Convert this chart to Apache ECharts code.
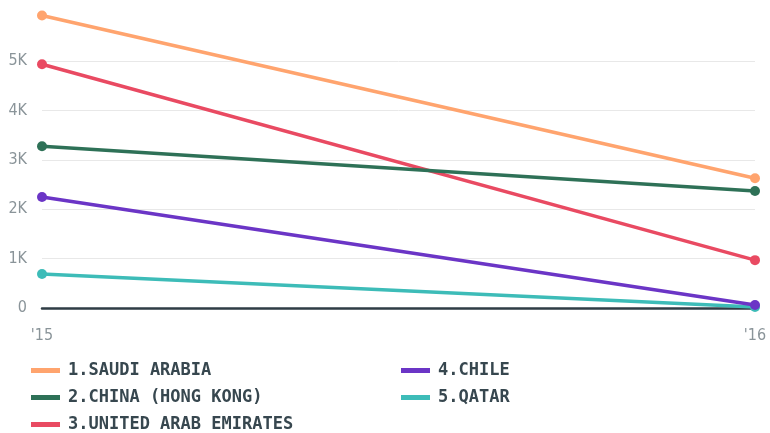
<!DOCTYPE html>
<html><head><meta charset="utf-8">
<script src="https://cdn.jsdelivr.net/npm/echarts@6/dist/echarts.min.js"></script>
<style>html,body{margin:0;padding:0;background:#fff}#c{width:770px;height:433px}</style>
</head><body><div id="c"></div>
<script>
const categories = ["'15", "'16"];
const saudiArabia = [5930, 2630];
const chinaHK = [3280, 2370];
const uae = [4940, 970];
const chile = [2250, 60];
const qatar = [690, 20];
const seriesNames = ['1.SAUDI ARABIA', '2.CHINA (HONG KONG)', '3.UNITED ARAB EMIRATES', '4.CHILE', '5.QATAR'];
const seriesColors = ['#ffa46e', '#2e7157', '#e94a62', '#6b35c6', '#3dbcb8'];
const seriesData = [saudiArabia, chinaHK, uae, chile, qatar];

const chart = echarts.init(document.getElementById('c'), null, {renderer: 'canvas'});
const legendText = {fontFamily: 'DejaVu Sans Mono', fontWeight: 'bold', fontSize: 17, color: '#37474f', padding: [0, 0, 0, 3]};
chart.setOption({
  animation: false,
  grid: {left: 42, right: 15, top: 12, bottom: 125, containLabel: false},
  xAxis: {
    type: 'category', data: categories, boundaryGap: false,
    axisLine: {lineStyle: {color: '#2f3d45', width: 2.5}},
    axisTick: {show: false},
    axisLabel: {color: '#8a9499', fontFamily: 'DejaVu Sans Condensed', fontSize: 16, margin: 20}
  },
  yAxis: {
    type: 'value', min: 0, max: 6000, interval: 1000,
    axisLine: {show: false}, axisTick: {show: false},
    axisLabel: {color: '#8a9499', fontFamily: 'DejaVu Sans Condensed', fontSize: 16, margin: 15,
      formatter: v => v === 0 ? '0' : (v >= 6000 ? '' : (v / 1000) + 'K')},
    splitLine: {lineStyle: {color: ['#e8e8e8','#e8e8e8','#e8e8e8','#e8e8e8','#e8e8e8','#e8e8e8','rgba(0,0,0,0)'], width: 1}}
  },
  legend: [
    {data: seriesNames.slice(0, 3), orient: 'vertical', left: 26, top: 357, height: 80, itemGap: 10, itemWidth: 29, itemHeight: 5, icon: 'rect', textStyle: legendText},
    {data: seriesNames.slice(3), orient: 'vertical', left: 396, top: 357, height: 80, itemGap: 10, itemWidth: 29, itemHeight: 5, icon: 'rect', textStyle: legendText}
  ],
  series: seriesNames.map((n, i) => ({
    name: n, type: 'line', data: seriesData[i],
    symbol: 'circle', symbolSize: 10,
    lineStyle: {color: seriesColors[i], width: 3.5},
    itemStyle: {color: seriesColors[i]},
    z: 10 - i
  }))
});
</script></body></html>
